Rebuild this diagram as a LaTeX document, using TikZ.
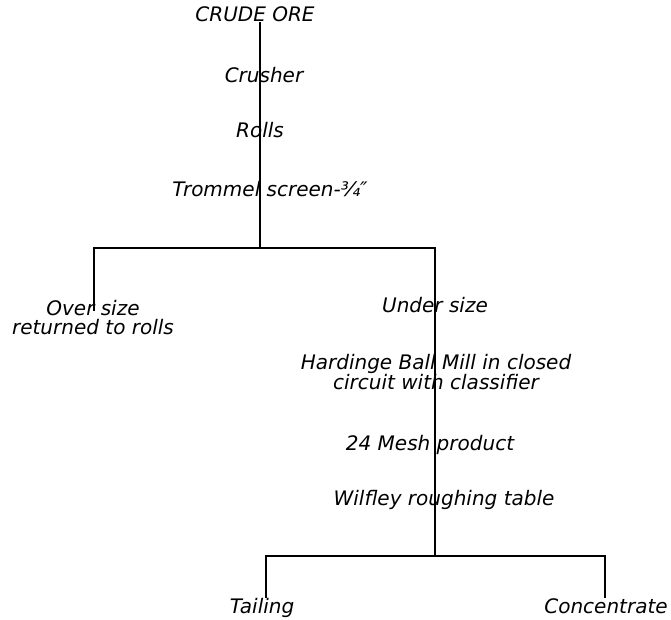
\documentclass[tikz,border=0pt]{standalone}
\usepackage{fontspec}
\setmainfont{DejaVu Sans}
\usetikzlibrary{positioning}

\tikzset{
    stage/.style={font=\itshape\fontsize{20}{19}\selectfont, inner sep=0pt, anchor=base},
    block/.style={font=\itshape\fontsize{20}{19}\selectfont, inner sep=0pt, align=center},
    flow/.style={line width=1.8pt},
}

\begin{document}
\begin{tikzpicture}[x=1pt, y=-1pt]
    \useasboundingbox (0,0) rectangle (671,620);

    \node[stage] (ore) at (255,22) {CRUDE ORE};
    \node[stage] (crusher) at (264,83) {Crusher};
    \node[stage] (rolls) at (260,138) {Rolls};
    \node[stage] (trommel) at (270,197) {Trommel screen-¾″};
    \node[block] (over) at (93,318) {Over size\\returned to rolls};
    \node[stage] (under) at (435,312) {Under size};
    \node[block] (mill) at (436,372) {Hardinge Ball Mill in closed\\circuit with classifier};
    \node[stage] (mesh) at (430,450) {24 Mesh product};
    \node[stage] (table) at (444,505) {Wilfley roughing table};
    \node[stage] (tail) at (262,613) {Tailing};
    \node[stage] (conc) at (606,613) {Concentrate};

    \coordinate (split) at (260,248);
    \coordinate (split2) at (435,556);

    \draw[flow] (ore.south -| split) -- (split);
    \draw[flow] ([xshift=1pt,yshift=-10pt]over.north) |- (split) -| (split2);
    \draw[flow] ([xshift=4pt]tail.north) |- (split2) -| ([xshift=-1pt]conc.north);
\end{tikzpicture}
\end{document}
